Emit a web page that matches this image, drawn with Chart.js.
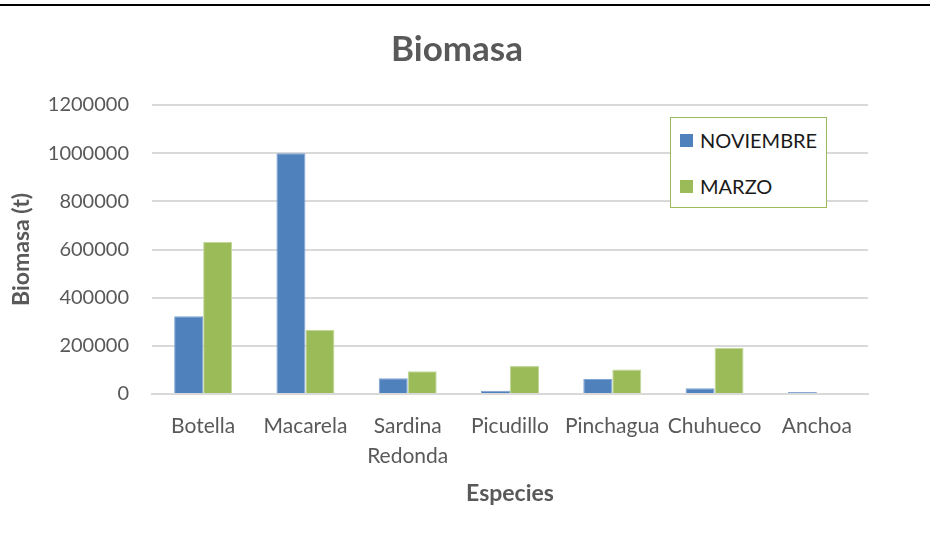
<!DOCTYPE html>
<html lang="es">
<head>
<meta charset="utf-8">
<title>Biomasa</title>
<script src="https://cdn.jsdelivr.net/npm/chart.js@4/dist/chart.umd.min.js"></script>
<style>
  html, body { margin: 0; padding: 0; background: #fff; }
  #wrap { position: relative; width: 930px; height: 549px; overflow: hidden; }
  #topline { position: absolute; left: 0; top: 4px; width: 930px; height: 2px; background: #000; }
  #legend {
    position: absolute; left: 670px; top: 117px; width: 155px; height: 89px;
    border: 1.5px solid #9bbb59; background: #fff;
    font-family: Lato, "Open Sans", sans-serif; font-size: 20px; color: #1a1a1a;
  }
  #legend .item { position: absolute; left: 9px; display: flex; align-items: center; }
  #legend .sw { width: 13px; height: 13px; margin-right: 7px; }
</style>
</head>
<body>
<div id="wrap">
  <canvas id="chart" width="930" height="549"></canvas>
  <div id="topline"></div>
  <div id="legend"></div>
</div>
<script>
// Especies y biomasa estimada (t) por campaña
const especies = ['Botella', 'Macarela', ['Sardina', 'Redonda'], 'Picudillo', 'Pinchagua', 'Chuhueco', 'Anchoa'];
const noviembre = [323000, 1000000, 65000, 14000, 62000, 24000, 8000];
const marzo = [631000, 267000, 94000, 116000, 102000, 192000, 0];
const yTicks = [0, 200000, 400000, 600000, 800000, 1000000, 1200000];

const GRIS = '#595959';
const FONT = 'Lato, "Open Sans", sans-serif';

const series = [
  { label: 'NOVIEMBRE', data: noviembre, color: '#4f81bd', edge: '#7fa3d3' },
  { label: 'MARZO', data: marzo, color: '#9bbb59', edge: '#c3d89c' },
];

const chart = new Chart(document.getElementById('chart'), {
  type: 'bar',
  data: {
    labels: especies,
    datasets: series.map((s) => ({
      label: s.label,
      data: s.data,
      backgroundColor: s.color,
      borderColor: s.edge,
      borderWidth: 1,
      categoryPercentage: 0.567,
      barPercentage: 1,
    })),
  },
  options: {
    responsive: false,
    animation: false,
    layout: { padding: { left: 0, right: 16, top: 0, bottom: 0 } },
    plugins: {
      legend: { display: false },
      tooltip: { enabled: false },
      title: {
        display: true,
        text: 'Biomasa',
        color: GRIS,
        font: { family: FONT, size: 35, weight: 'bold', lineHeight: 1.2 },
        padding: { top: 29, bottom: 34 },
      },
    },
    scales: {
      x: {
        grid: { display: false },
        border: { display: true, color: '#d9d9d9', width: 2 },
        ticks: {
          color: GRIS,
          padding: 9,
          maxRotation: 0,
          autoSkip: false,
          font: { family: FONT, size: 21, lineHeight: 1.45 },
        },
        title: {
          display: true,
          text: 'Especies',
          color: GRIS,
          font: { family: FONT, size: 23, weight: 'bold', lineHeight: 1.2 },
          padding: { top: 0, bottom: 42 },
        },
        afterFit: (scale) => { scale.height = 155; },
      },
      y: {
        min: 0,
        max: 1200000,
        afterBuildTicks: (scale) => { scale.ticks = yTicks.map((v) => ({ value: v })); },
        grid: { color: '#d9d9d9', lineWidth: 2, drawTicks: false },
        border: { display: false },
        ticks: {
          color: GRIS,
          padding: 23,
          font: { family: FONT, size: 20 },
          callback: (v) => String(v),
        },
        title: {
          display: true,
          text: 'Biomasa (t)',
          color: GRIS,
          font: { family: FONT, size: 23, weight: 'bold', lineHeight: 1.2 },
          padding: { top: 8, bottom: 0 },
        },
        afterFit: (scale) => { scale.width = 152; },
      },
      // margen derecho vacío del área de trazado
      margen: {
        position: 'right',
        grid: { display: false },
        border: { display: false },
        ticks: { display: false },
        afterFit: (scale) => { scale.width = 46; },
      },
    },
  },
});

// Leyenda dentro del área del gráfico
const $legend = document.getElementById('legend');
series.forEach((s, i) => {
  const item = document.createElement('div');
  item.className = 'item';
  item.style.top = (i === 0 ? 10 : 56) + 'px';
  item.innerHTML = `<span class="sw" style="background:${s.color}"></span><span>${s.label}</span>`;
  $legend.appendChild(item);
});
</script>
</body>
</html>
